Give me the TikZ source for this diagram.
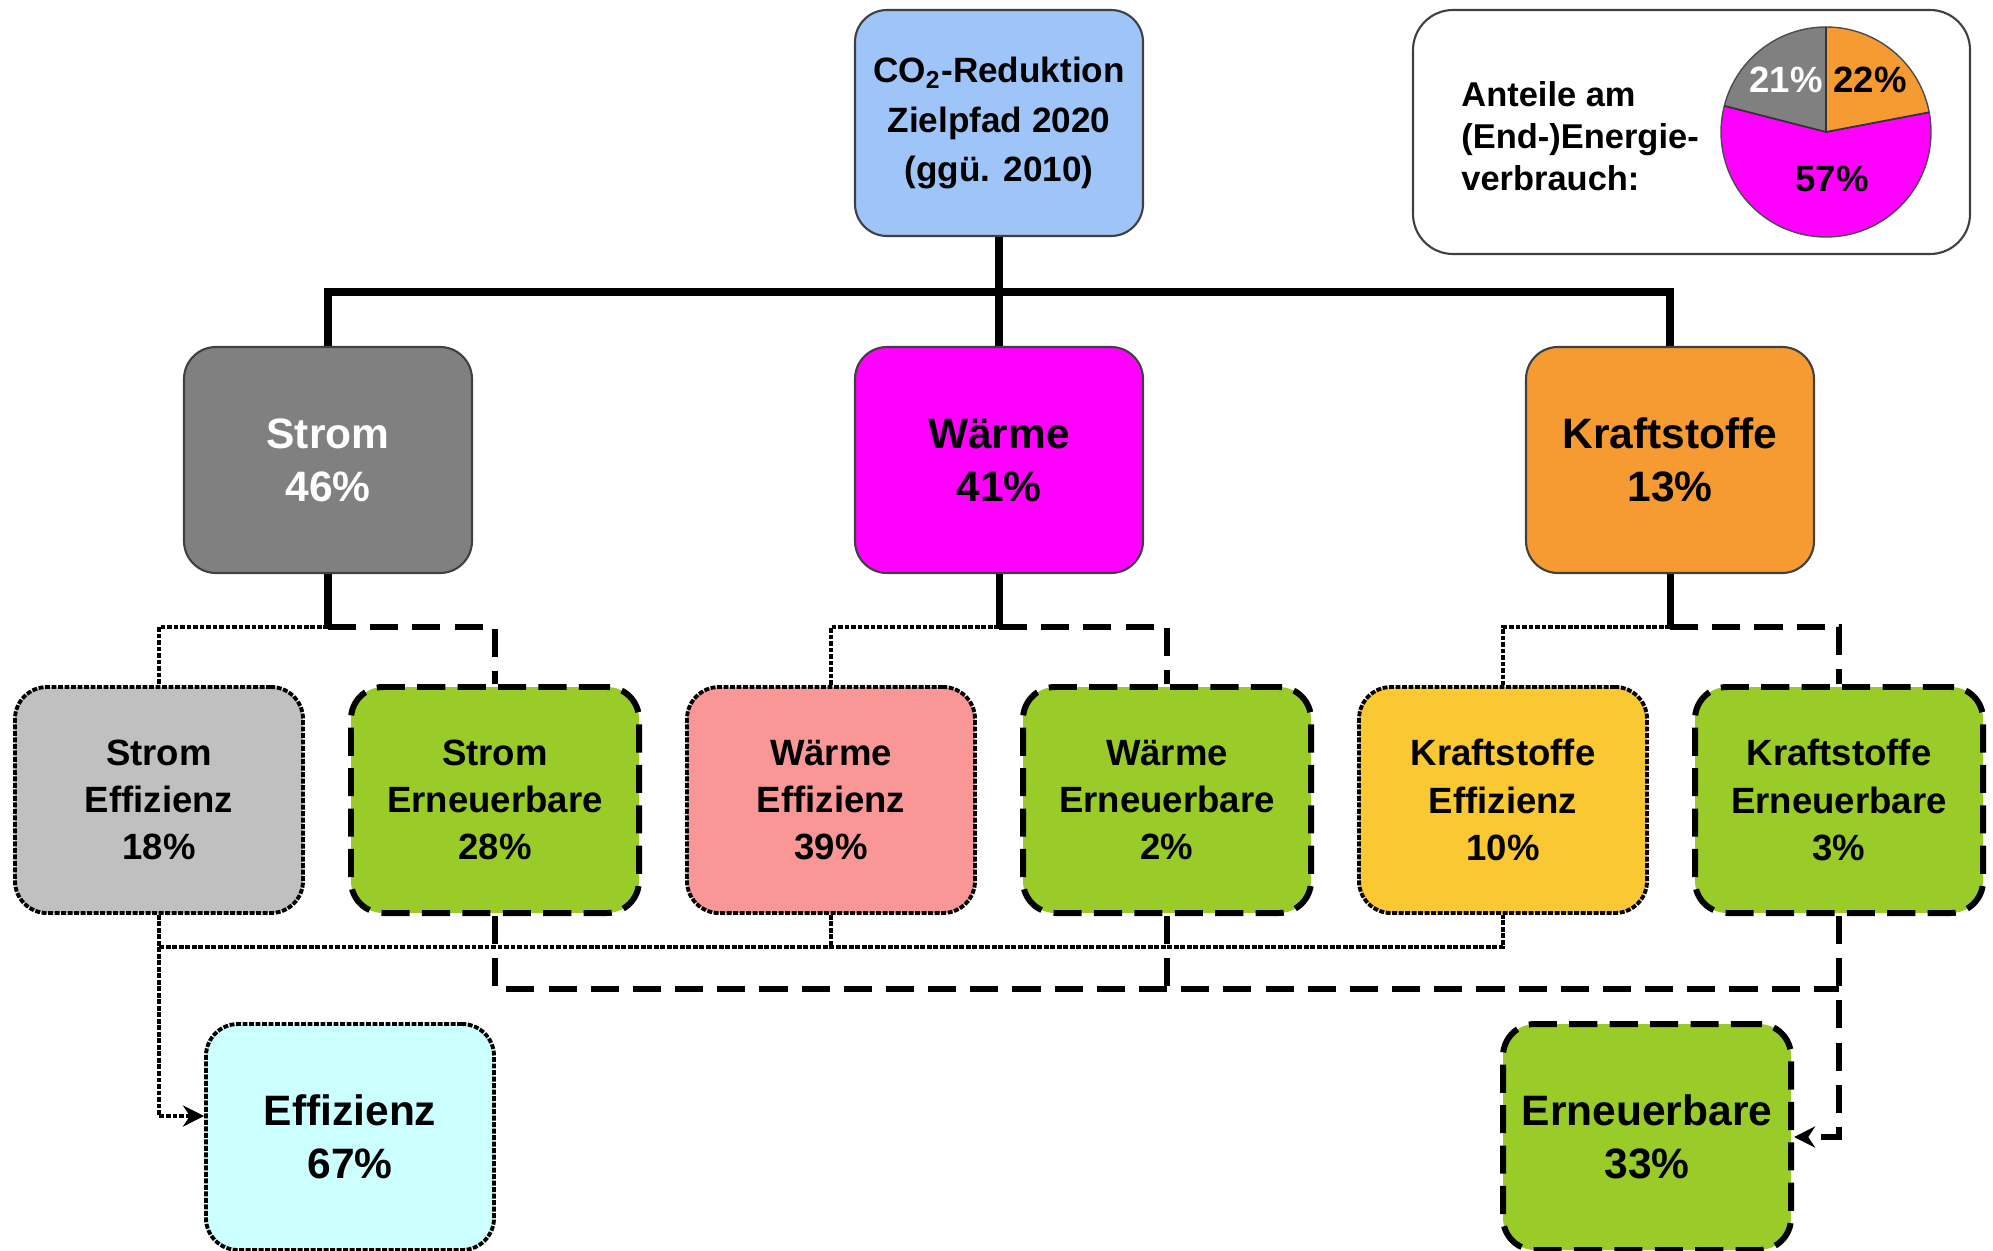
\documentclass[tikz,border=0pt]{standalone}
\usepackage{fontspec}
\setmainfont{Liberation Sans}
\usetikzlibrary{positioning}
\usetikzlibrary{arrows.meta}

\definecolor{rootblue}{RGB}{158,196,248}
\definecolor{stromgray}{RGB}{128,128,128}
\definecolor{waermemag}{RGB}{255,0,255}
\definecolor{kraftorange}{RGB}{245,155,50}
\definecolor{effgray}{RGB}{192,192,192}
\definecolor{erngreen}{RGB}{153,204,40}
\definecolor{effpink}{RGB}{249,150,150}
\definecolor{effyellow}{RGB}{250,200,50}
\definecolor{effcyan}{RGB}{204,255,255}

\begin{document}
\begin{tikzpicture}[
        >={Stealth[length=6pt,width=6pt]},
        box/.style={rectangle, rounded corners=0.32cm, minimum width=2.88cm, minimum height=2.26cm, align=center, inner sep=2pt},
        topbox/.style={box, draw=black!75, line width=0.6pt, font=\bfseries\fontsize{12.1}{15.1}\selectfont},
        effbox/.style={box, draw=black, line width=1.1pt, dash pattern=on 1.4pt off 0.45pt, font=\bfseries\fontsize{10.4}{13.4}\selectfont},
        ernbox/.style={box, draw=black, line width=1.7pt, dash pattern=on 8pt off 3.5pt, fill=erngreen, font=\bfseries\fontsize{10.4}{13.4}\selectfont},
        bigtext/.style={font=\bfseries\fontsize{12.1}{15.1}\selectfont},
        bus/.style={line width=2.4pt},
        trunk/.style={line width=2pt},
        effline/.style={line width=1.1pt, dash pattern=on 1.4pt off 0.45pt},
        ernline/.style={line width=1.5pt, dash pattern=on 8pt off 4pt}
    ]
    \useasboundingbox (0,0) rectangle (19.93,-12.5);

        % top and second level
        \node [topbox, fill=rootblue, font=\bfseries\fontsize{10}{14}\selectfont] (root) at (9.99,-1.23) {CO\textsubscript{2}-Reduktion\\Zielpfad 2020\\(ggü. 2010)};
        \node [topbox, fill=waermemag] (waerme) [below of= root, node distance=3.37cm] {Wärme\\41\%};
        \node [topbox, fill=stromgray, text=white] (strom) [left of= waerme, node distance=6.71cm] {Strom\\46\%};
        \node [topbox, fill=kraftorange] (kraft) [right of= waerme, node distance=6.71cm] {Kraftstoffe\\13\%};

        % third level
        \node [effbox, fill=effgray] (stromeff) at (1.59,-8.0) {Strom\\Effizienz\\18\%};
        \node [ernbox] (stromern) [right of= stromeff, node distance=3.36cm] {Strom\\Erneuerbare\\28\%};
        \node [effbox, fill=effpink] (waermeeff) [right of= stromern, node distance=3.36cm] {Wärme\\Effizienz\\39\%};
        \node [ernbox] (waermeern) [right of= waermeeff, node distance=3.36cm] {Wärme\\Erneuerbare\\2\%};
        \node [effbox, fill=effyellow] (krafteff) [right of= waermeern, node distance=3.36cm] {Kraftstoffe\\Effizienz\\10\%};
        \node [ernbox] (kraftern) [right of= krafteff, node distance=3.36cm] {Kraftstoffe\\Erneuerbare\\3\%};

        % totals
        \node [effbox, fill=effcyan, bigtext] (effz) at (3.50,-11.37) {Effizienz\\67\%};
        \node [ernbox, bigtext] (ern) at (16.47,-11.37) {Erneuerbare\\33\%};

        \coordinate (bus) at (0,-2.92);
        \coordinate (fork) at (0,-6.27);
        \coordinate (effrail) at (0,-9.47);
        \coordinate (ernrail) at (0,-9.89);

        \draw[bus] (root.south) -- (root.south |- bus);
        \draw[bus] (strom.north) -- (strom.north |- bus) -- (kraft.north |- bus) -- (kraft.north);
        \draw[bus] (waerme.north |- bus) -- (waerme.north);

        \foreach \top/\eff/\ern in {strom/stromeff/stromern, waerme/waermeeff/waermeern, kraft/krafteff/kraftern} {
            \draw[trunk] (\top.south) -- (\top.south |- fork);
            \draw[effline] (\top.south |- fork) -| (\eff.north);
            \draw[ernline] (\top.south |- fork) -| (\ern.north);
        }

        \draw[effline] (stromeff.south) |- (krafteff.south |- effrail) -- (krafteff.south);
        \draw[effline] (waermeeff.south) -- (waermeeff.south |- effrail);
        \draw[effline,->] (stromeff.south) |- ([yshift=0.21cm]effz.west);

        \draw[ernline] (stromern.south) |- (kraftern.south |- ernrail);
        \draw[ernline] (waermeern.south) -- (waermeern.south |- ernrail);
        \draw[ernline,->] (kraftern.south) |- (ern.east);

        % legend with pie
        \node [draw=black!75, line width=0.6pt, rounded corners=0.4cm, minimum width=5.57cm, minimum height=2.44cm] (legend) at (16.915,-1.32) {};
        \node [anchor=west, align=left, font=\bfseries\fontsize{9.8}{12}\selectfont] (legendtext) at (14.49,-1.36) {Anteile am\\(End-)Energie-\\verbrauch:};
        \coordinate (piec) at (18.26,-1.32);
        \fill[kraftorange] (piec) -- ++(90:1.05) arc (90:10.8:1.05) -- cycle;
        \fill[waermemag] (piec) -- ++(10.8:1.05) arc (10.8:-194.4:1.05) -- cycle;
        \fill[stromgray] (piec) -- ++(165.6:1.05) arc (165.6:90:1.05) -- cycle;
        \draw[black!70, line width=0.4pt] (piec) circle (1.05);
        \draw[black!80, line width=0.5pt] (piec) -- ++(90:1.05) (piec) -- ++(10.8:1.05) (piec) -- ++(165.6:1.05);
        \node [text=white, font=\bfseries\fontsize{10.4}{12}\selectfont] (pie21) at (17.86,-0.80) {21\%};
        \node [font=\bfseries\fontsize{10.4}{12}\selectfont] (pie22) at (18.70,-0.80) {22\%};
        \node [font=\bfseries\fontsize{10.4}{12}\selectfont] (pie57) at (18.32,-1.79) {57\%};

    \end{tikzpicture}
\end{document}
